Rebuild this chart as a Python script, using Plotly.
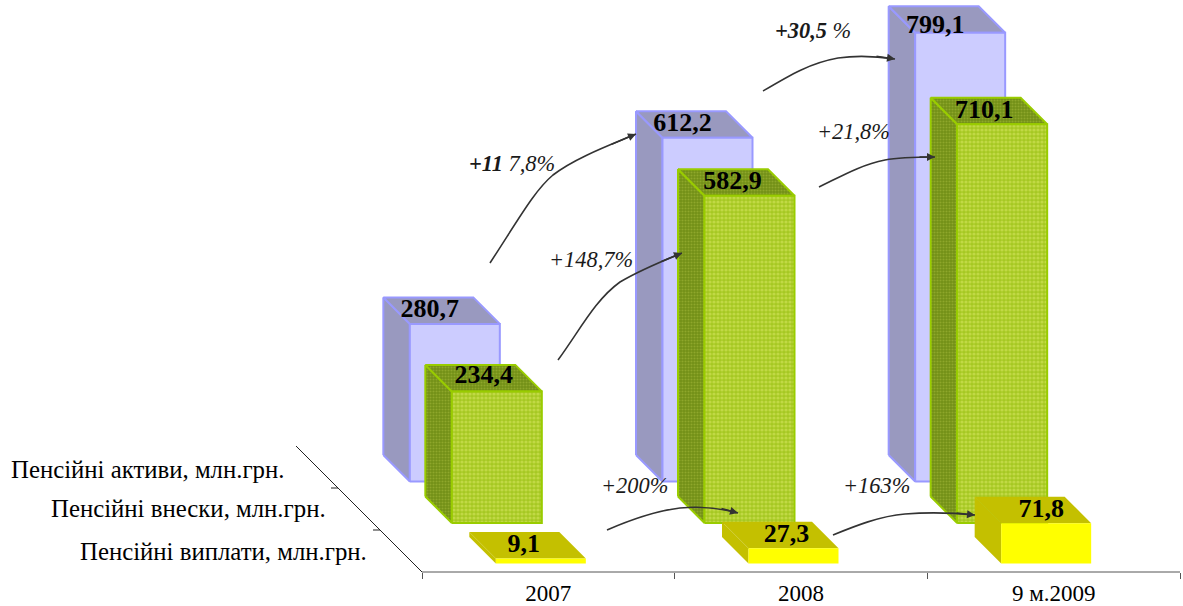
import plotly.graph_objects as go

# ---- data ----
categories = ["2007", "2008", "9 м.2009"]
series_names = ["Пенсійні активи, млн.грн.", "Пенсійні внески, млн.грн.", "Пенсійні виплати, млн.грн."]
assets = [280.7, 612.2, 799.1]
contributions = [234.4, 582.9, 710.1]
payments = [9.1, 27.3, 71.8]

label_assets = ["280,7", "612,2", "799,1"]
label_contrib = ["234,4", "582,9", "710,1"]
label_pay = ["9,1", "27,3", "71,8"]

# ---- geometry of the oblique projection (pixels) ----
W, H = 1183, 606
AX_L, AX_R, AX_Y = 422.0, 1180.0, 572.0
PX_PER_CAT = (AX_R - AX_L) / 3
PX_PER_UNIT = 0.5615
DEPTH = 26.5
BAR_W = 90.0


def X(px):
    return (px - AX_L) / PX_PER_CAT


def Yoff(px_up):
    return px_up / PX_PER_UNIT


def PX(px):
    return px / W


def PY(py):
    return 1 - py / H


styles = [
    dict(values=assets, labels=label_assets, shift=-93.5, base=90.5, line="#9999FF", lw=2,
         front="#CCCCFF", side="#9999BF", pattern=False, lab=[-25, -25, -25], up=[13, 13, 6]),
    dict(values=contributions, labels=label_contrib, shift=-51.5, base=49.0, line="#99CC00", lw=2,
         front="#B4D23C", side="#86A020", pattern=True, lab=[-13, -17, -18], up=[15, 13, 13]),
    dict(values=payments, labels=label_pay, shift=-7.5, base=8.5, line=None, lw=0,
         front="#FFFF00", side="#C4C000", pattern=False, lab=[-17, -7, -5], up=[13, 13, 13]),
]

fig = go.Figure()


def poly(xs, ys, fill, line, lw, pattern=None):
    kw = {}
    if pattern:
        kw["fillpattern"] = pattern
    fig.add_trace(go.Scatter(
        x=xs + xs[:1], y=ys + ys[:1], mode="lines", fill="toself", fillcolor=fill,
        line=dict(color=line or fill, width=lw if line else 0), hoverinfo="skip",
        showlegend=False, cliponaxis=False, **kw))


for st in styles:
    for i, v in enumerate(st["values"]):
        cx = (AX_L + (i + 0.5) * PX_PER_CAT) + st["shift"]
        l, r = cx - BAR_W / 2, cx + BAR_W / 2
        y0 = Yoff(st["base"])
        y1 = y0 + v
        dy = Yoff(DEPTH)
        xl, xr, xb = X(l), X(r), X(l - DEPTH)
        pat_front = pat_side = None
        if st["pattern"]:
            pat_front = dict(shape=".", fgcolor="#DCEA68", bgcolor="#A6C822", size=4, solidity=0.5)
            pat_side = dict(shape=".", fgcolor="#A9C040", bgcolor="#728F16", size=3, solidity=0.4)
        # side face
        poly([xb, xl, xl, xb], [y0 + dy, y0, y1, y1 + dy], st["side"], st["line"], st["lw"], pat_side)
        # top face
        poly([xb, xb + (xr - xl), xr, xl], [y1 + dy, y1 + dy, y1, y1], st["side"], st["line"], st["lw"], pat_side)
        # front face
        poly([xl, xr, xr, xl], [y0, y0, y1, y1], st["front"], st["line"], st["lw"], pat_front)

# category axis line
fig.add_trace(go.Scatter(x=[0, 3], y=[0, 0], mode="lines", line=dict(color="#555555", width=1),
                         hoverinfo="skip", showlegend=False))
# depth axis
depth_x = [X(296), X(422)]
depth_y = [Yoff(126), 0]
fig.add_trace(go.Scatter(x=depth_x, y=depth_y, mode="lines", line=dict(color="#222222", width=1),
                         hoverinfo="skip", showlegend=False))
for k in (1, 2):
    tx, ty = 296 + 42 * k, 42 * (3 - k)
    fig.add_trace(go.Scatter(x=[X(tx - 7), X(tx)], y=[Yoff(ty), Yoff(ty)], mode="lines",
                             line=dict(color="#222222", width=1), hoverinfo="skip",
                             showlegend=False))

# value labels
for st in styles:
    xs, ys = [], []
    for i, v in enumerate(st["values"]):
        cx = (AX_L + (i + 0.5) * PX_PER_CAT) + st["shift"]
        xs.append(X(cx + st["lab"][i]))
        ys.append(Yoff(st["base"]) + v + Yoff(st["up"][i]))
    fig.add_trace(go.Scatter(x=xs, y=ys, mode="text", text=st["labels"], textposition="middle center",
                             textfont=dict(family="Liberation Serif", size=26, color="#000000"),
                             texttemplate="<b>%{text}</b>", hoverinfo="skip", showlegend=False))

annotations = []
# series names beside the depth axis
for name, right, py in zip(series_names, [287, 328, 369], [469.5, 508.5, 551.5]):
    annotations.append(dict(text=name, xref="paper", yref="paper", x=PX(right), y=PY(py),
                            xanchor="right", yanchor="middle", showarrow=False,
                            font=dict(family="Liberation Serif", size=24.8, color="#000000")))

# growth notes
notes = [
    ("<b><i>+11</i></b><i> 7,8%</i>", 512, 163),
    ("<i>+148,7%</i>", 591, 259),
    ("<b><i>+30,5</i></b><i> %</i>", 813, 30),
    ("<i>+21,8%</i>", 853, 132),
    ("<i>+200%</i>", 634, 485),
    ("<i>+163%</i>", 876, 485),
]
for t, cx, cy in notes:
    annotations.append(dict(text=t, xref="paper", yref="paper", x=PX(cx), y=PY(cy),
                            xanchor="center", yanchor="middle", showarrow=False,
                            font=dict(family="Liberation Serif", size=22.4, color="#1a1a1a")))

# connector curves (start, ctrl, ctrl, mid, ctrl, ctrl, end)
curves = [
    [(490, 263), (520, 217), (535, 190), (553, 175), (575, 158), (610, 145), (636, 134)],
    [(558, 360), (580, 330), (595, 300), (620, 282), (640, 270), (660, 262), (682, 253)],
    [(763, 91), (790, 75), (810, 63), (838, 58), (858, 55), (875, 56), (895, 59)],
    [(819, 187), (840, 177), (860, 165), (885, 160), (900, 157), (918, 157), (935, 157)],
    [(607, 530), (630, 520), (655, 511), (680, 508), (700, 506), (720, 508), (738, 513)],
    [(833, 535), (855, 526), (880, 516), (905, 514), (930, 512), (955, 513), (975, 515)],
]
shapes = []
for c in curves:
    pts = [(PX(a), PY(b)) for a, b in c]
    path = "M{},{} C{},{} {},{} {},{} C{},{} {},{} {},{}".format(*[v for p in pts for v in p])
    shapes.append(dict(type="path", path=path, xref="paper", yref="paper",
                       line=dict(color="#333333", width=1.6), layer="above"))
    (ax, ay), (ex, ey) = c[-2], c[-1]
    annotations.append(dict(text="", xref="paper", yref="paper", x=PX(ex), y=PY(ey),
                            axref="pixel", ayref="pixel", ax=(ax - ex), ay=(ay - ey), showarrow=True,
                            arrowhead=2, arrowsize=1, arrowwidth=1.6, arrowcolor="#333333"))

fig.update_layout(
    width=W, height=H, margin=dict(l=0, r=0, t=0, b=0), paper_bgcolor="white", plot_bgcolor="white",
    showlegend=False, shapes=shapes, annotations=annotations,
    xaxis=dict(domain=[0, 1], range=[X(0), X(W)], anchor="free", position=(H - AX_Y) / H,
               tickmode="array", tickvals=[0.5, 1.5, 2.5], ticktext=categories, ticks="",
               showgrid=False, zeroline=False, showline=False, ticklabelstandoff=5,
               tickfont=dict(family="Liberation Serif", size=23, color="#000000"),
               minor=dict(tickmode="array", tickvals=[0, 1, 2, 3], ticks="outside", ticklen=6,
                          tickcolor="#555555", tickwidth=1, showgrid=False)),
    yaxis=dict(domain=[0, 1], range=[-(H - AX_Y) / PX_PER_UNIT, AX_Y / PX_PER_UNIT], visible=False,
               showgrid=False, zeroline=False),
)

fig.write_html("out.html", config=dict(displayModeBar=False),
               post_script="document.body.style.margin='0';document.body.style.overflow='hidden';")
